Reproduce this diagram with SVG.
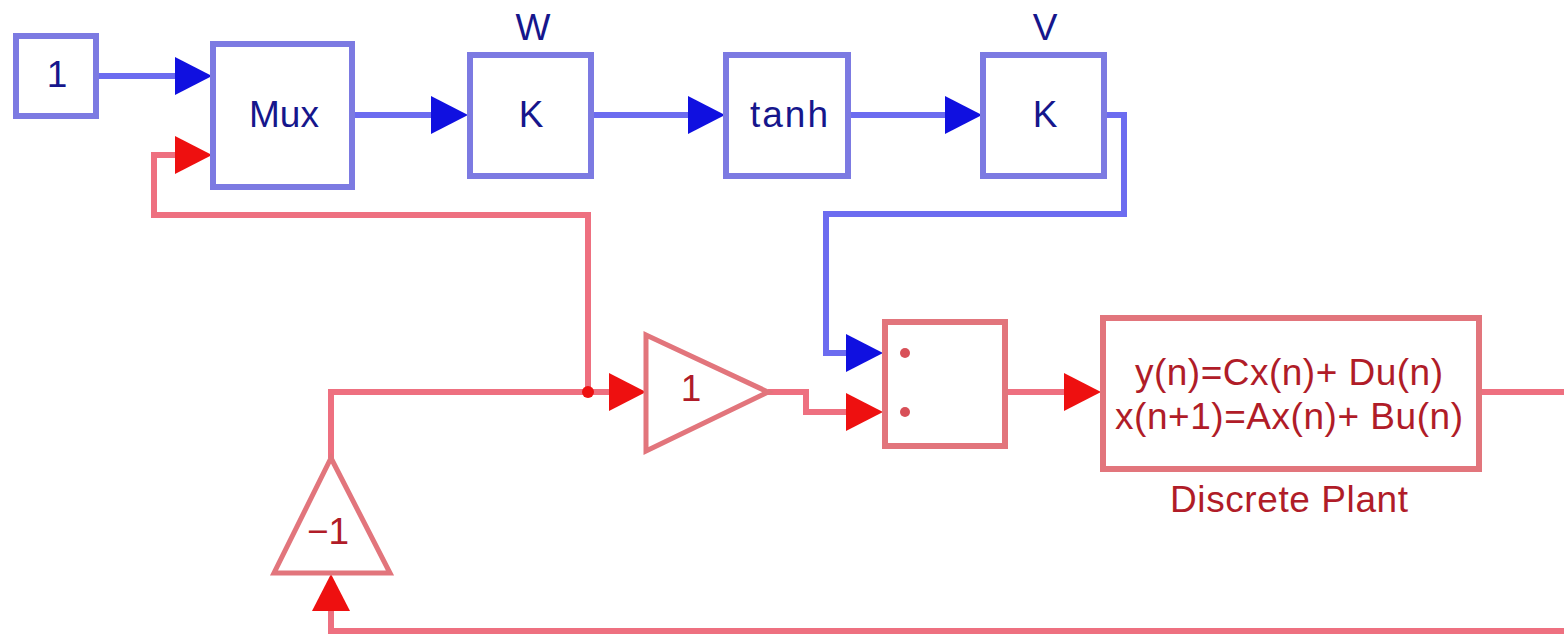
<svg xmlns="http://www.w3.org/2000/svg" width="1564" height="634" viewBox="0 0 1564 634">
<style>
.b{fill:#fff;stroke:#7c7ae2;stroke-width:6}
.r{fill:#fff;stroke:#e2757c;stroke-width:6}
.t{stroke-width:5}
.wb{fill:none;stroke:#6c6cf0;stroke-width:6}
.wr{fill:none;stroke:#ee7080;stroke-width:6}
.hb{fill:#1010e0}
.hr{fill:#ee1010}
text{font-family:"Liberation Sans",Arial,sans-serif;font-size:37px;text-anchor:middle}
.tb{fill:#16168c}
.tr{fill:#b01c28}
</style>
<rect width="1564" height="634" fill="#fff"/>
<g id="connectors">
<path class="wb" d="M96 76H180"/>
<path class="wb" d="M354 115H436"/>
<path class="wb" d="M591 115H692"/>
<path class="wb" d="M848 115H950"/>
<path class="wb" d="M1104 115H1124V214H826V353H850"/>
<path class="wr" d="M588 392V215H154V155H180"/>
<path class="wr" d="M331 458V392H612"/>
<path class="wr" d="M768 392H806V412H850"/>
<path class="wr" d="M1005 392H1066"/>
<path class="wr" d="M1481 392H1564"/>
<path class="wr" d="M1564 631H331V608"/>
<path class="hb" d="M175 57L212 76L175 95Z"/>
<path class="hb" d="M431 96L468 115L431 134Z"/>
<path class="hb" d="M688 96L725 115L688 134Z"/>
<path class="hb" d="M945 96L982 115L945 134Z"/>
<path class="hb" d="M846 334L883 353L846 372Z"/>
<path class="hr" d="M175 136L212 155L175 174Z"/>
<path class="hr" d="M609 373L646 392L609 411Z"/>
<path class="hr" d="M846 393L883 412L846 431Z"/>
<path class="hr" d="M1064 373L1101 392L1064 411Z"/>
<path class="hr" d="M312 611L331 574L350 611Z"/>
<circle class="hr" cx="588" cy="392" r="6"/>
</g>
<g id="const"><rect class="b" x="16" y="36" width="80" height="80"/><text class="tb" x="57" y="87">1</text></g>
<g id="mux"><rect class="b" x="213" y="44" width="139" height="143"/><text class="tb" x="284" y="127">Mux</text></g>
<g id="w"><rect class="b" x="470" y="55" width="121" height="121"/><text class="tb" x="531" y="127">K</text><text class="tb" x="533" y="40">W</text></g>
<g id="tanh"><rect class="b" x="726" y="55" width="122" height="121"/><text class="tb" x="789" y="127" textLength="78" lengthAdjust="spacing">tanh</text></g>
<g id="v"><rect class="b" x="983" y="55" width="121" height="121"/><text class="tb" x="1045" y="127">K</text><text class="tb" x="1045" y="40">V</text></g>
<g id="gain"><path class="r t" d="M646 335L768 392L646 451Z"/><text class="tr" x="691" y="401">1</text></g>
<g id="sum"><rect class="r" x="885" y="322" width="120" height="124"/><circle cx="905" cy="353" r="5" fill="#d85058"/><circle cx="905" cy="412" r="5" fill="#d85058"/></g>
<g id="plant"><rect class="r" x="1103" y="318" width="376" height="151"/><text class="tr" x="1289" y="385" textLength="308" lengthAdjust="spacing">y(n)=Cx(n)+ Du(n)</text><text class="tr" x="1289" y="429" textLength="348" lengthAdjust="spacing">x(n+1)=Ax(n)+ Bu(n)</text><text class="tr" x="1289" y="512" textLength="238" lengthAdjust="spacing">Discrete Plant</text></g>
<g id="neg"><path class="r t" d="M331 458L390 573H274Z"/><text class="tr" x="328" y="544">−1</text></g>
</svg>
